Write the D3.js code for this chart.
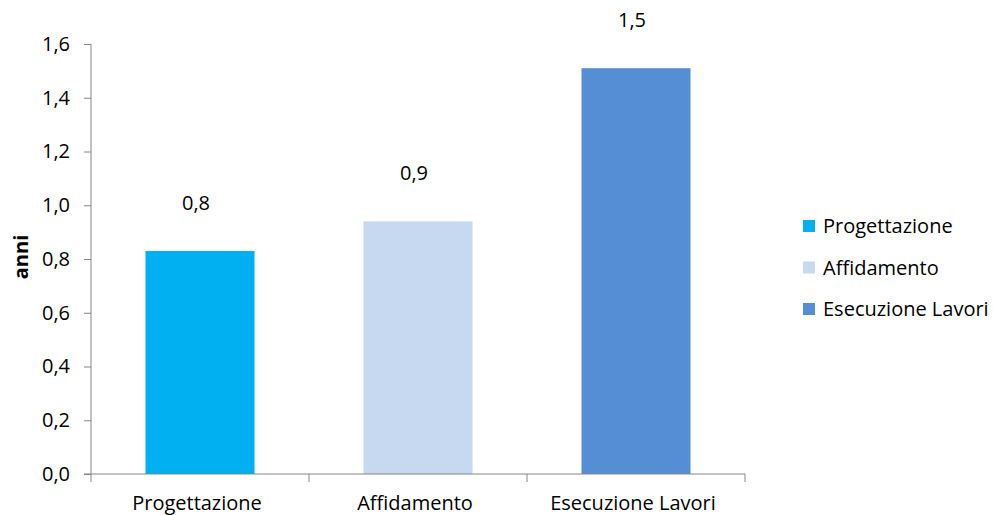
<!DOCTYPE html>
<html>
<head>
<meta charset="utf-8">
<script src="https://cdn.jsdelivr.net/npm/d3@7"></script>
<style>
  html, body { margin: 0; padding: 0; background: #fff; }
  svg { display: block; font-family: "Open Sans", Lato, sans-serif; }
</style>
</head>
<body>
<svg id="chart" width="993" height="515"></svg>
<script>
// Durata media delle fasi (anni)
const categories = ["Progettazione", "Affidamento", "Esecuzione Lavori"];
const values = [0.83, 0.94, 1.51];
const colors = ["#00B0F0", "#C6D9F1", "#558ED5"];
const yTicks = [0, 0.2, 0.4, 0.6, 0.8, 1.0, 1.2, 1.4, 1.6];

const svg = d3.select("#chart");
const margin = { left: 91, right: 248, top: 44, bottom: 41 };
const W = 993, H = 515;
const axisColor = "#868686";
const fontFamily = "'Open Sans', Lato, sans-serif";
const fontSize = 20;
const fmt = v => d3.format(".1f")(v).replace(".", ",");

const x = d3.scaleBand()
  .domain(categories)
  .range([margin.left, W - margin.right])
  .paddingInner(0.5)
  .paddingOuter(0.25);

const y = d3.scaleLinear()
  .domain([0, 1.6])
  .range([H - margin.bottom, margin.top]);

// Asse Y
const yAxis = svg.append("g")
  .attr("transform", `translate(${margin.left},0)`)
  .call(d3.axisLeft(y).tickValues(yTicks).tickFormat(fmt).tickSize(7).tickPadding(14));
yAxis.select(".domain").attr("stroke", axisColor).attr("d", `M0,${y(1.6)}V${y(0)}`);
yAxis.selectAll(".tick line").attr("stroke", axisColor);
yAxis.selectAll(".tick text").attr("fill", "#000").attr("font-size", fontSize)
  .attr("font-family", fontFamily);

// Barre
svg.selectAll("rect.bar")
  .data(categories)
  .enter().append("rect")
  .attr("class", "bar")
  .attr("x", d => x(d))
  .attr("width", x.bandwidth())
  .attr("y", (d, i) => y(values[i]))
  .attr("height", (d, i) => y(0) - y(values[i]))
  .attr("fill", (d, i) => colors[i]);

// Etichette dei valori
svg.selectAll("text.val")
  .data(categories)
  .enter().append("text")
  .attr("class", "val")
  .attr("x", d => x(d) + x.bandwidth() / 2 - 4)
  .attr("y", (d, i) => y(values[i]) - 41)
  .attr("text-anchor", "middle")
  .attr("font-size", fontSize)
  .attr("fill", "#000")
  .text((d, i) => fmt(values[i]));

// Asse X con tacche tra le categorie
const step = x.step();
const x0 = margin.left, x1 = W - margin.right;
const gx = svg.append("g");
gx.append("line")
  .attr("x1", margin.left - 7).attr("x2", x1)
  .attr("y1", y(0)).attr("y2", y(0))
  .attr("stroke", axisColor);
gx.selectAll("line.tk")
  .data(d3.range(categories.length + 1))
  .enter().append("line")
  .attr("class", "tk")
  .attr("x1", i => x0 + i * step).attr("x2", i => x0 + i * step)
  .attr("y1", y(0)).attr("y2", y(0) + 8)
  .attr("stroke", axisColor);
gx.selectAll("text")
  .data(categories)
  .enter().append("text")
  .attr("x", d => x(d) + x.bandwidth() / 2 - 3)
  .attr("y", H - 5.5)
  .attr("text-anchor", "middle")
  .attr("font-size", fontSize)
  .attr("fill", "#000")
  .text(d => d);

// Titolo asse Y
svg.append("text")
  .attr("transform", `translate(28,${(y(0) + y(1.6)) / 2 - 2}) rotate(-90)`)
  .attr("text-anchor", "middle")
  .attr("font-size", fontSize)
  .attr("font-weight", "bold")
  .text("anni");

// Legenda
const legend = svg.append("g").attr("transform", "translate(803,220)");
const rowH = 41.5;
categories.forEach((c, i) => {
  const g = legend.append("g").attr("transform", `translate(0,${i * rowH})`);
  g.append("rect").attr("width", 12).attr("height", 12).attr("fill", colors[i]);
  g.append("text").attr("x", 20).attr("y", 6).attr("dy", "0.35em")
    .attr("font-size", fontSize).attr("fill", "#000").text(c);
});
</script>
</body>
</html>
